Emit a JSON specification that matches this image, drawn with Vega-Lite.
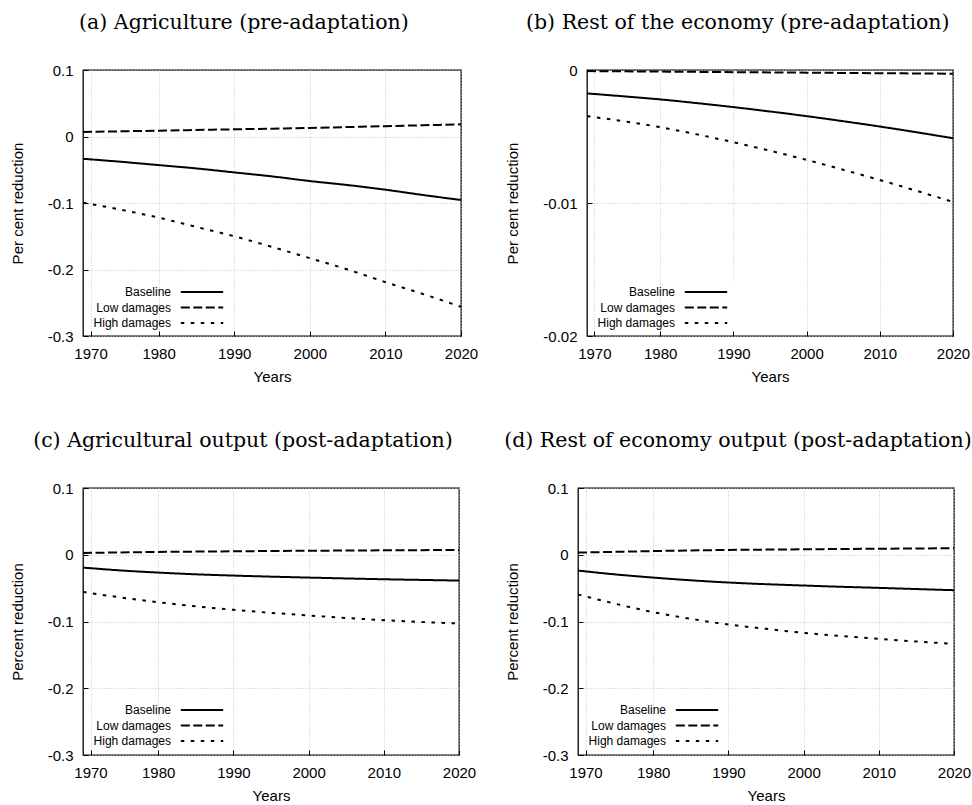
{
  "$schema": "https://vega.github.io/schema/vega-lite/v6.json",
  "background": "white",
  "padding": {"left": 9, "top": 11, "right": 5, "bottom": 5},
  "config": {
    "font": "Liberation Sans",
    "view": {"stroke": "black", "strokeWidth": 1.3},
    "axis": {
      "labelFont": "Liberation Sans", "labelFontSize": 15, "labelColor": "black",
      "titleFont": "Liberation Sans", "titleFontSize": 15, "titleFontWeight": "normal", "titleColor": "black",
      "domain": false, "gridColor": "#c4c4c4", "gridDash": [1, 2], "gridWidth": 1,
      "tickColor": "black", "tickSize": -5, "tickWidth": 1, "labelPadding": 15, "labelFlush": false
    },
    "axisY": {"titlePadding": 22},
    "axisX": {"titlePadding": 8},
    "title": {"font": "DejaVu Serif", "fontSize": 20.5, "fontWeight": "normal", "color": "black", "frame": "bounds", "anchor": "middle", "offset": 30},
    "legend": {
      "title": null, "orient": "none", "legendX": 108, "legendY": 211, "padding": 2,
      "symbolType": "M -2.65 0 H 2.65", "symbolSize": 256, "symbolStrokeWidth": 2, "symbolStrokeColor": "black", "symbolFillColor": "transparent",
      "labelAlign": "right", "labelOffset": -40, "symbolOffset": 0, "rowPadding": 0.5,
      "labelFont": "Liberation Sans", "labelFontSize": 12, "labelColor": "black", "fillColor": "white"
    },
    "line": {"color": "black", "strokeWidth": 2, "interpolate": "monotone"}
  },
  "datasets": {
    "a": [
      {"year": 1970, "Baseline": -0.0335, "Low damages": 0.0068, "High damages": -0.0995},
      {"year": 1975, "Baseline": -0.038, "Low damages": 0.0078, "High damages": -0.110},
      {"year": 1980, "Baseline": -0.043, "Low damages": 0.0088, "High damages": -0.122},
      {"year": 1985, "Baseline": -0.048, "Low damages": 0.0098, "High damages": -0.136},
      {"year": 1990, "Baseline": -0.054, "Low damages": 0.0108, "High damages": -0.150},
      {"year": 1995, "Baseline": -0.060, "Low damages": 0.0118, "High damages": -0.166},
      {"year": 2000, "Baseline": -0.067, "Low damages": 0.0128, "High damages": -0.183},
      {"year": 2005, "Baseline": -0.073, "Low damages": 0.0142, "High damages": -0.200},
      {"year": 2010, "Baseline": -0.080, "Low damages": 0.0156, "High damages": -0.219},
      {"year": 2015, "Baseline": -0.088, "Low damages": 0.0169, "High damages": -0.237},
      {"year": 2020, "Baseline": -0.0955, "Low damages": 0.0183, "High damages": -0.256}
    ],
    "b": [
      {"year": 1970, "Baseline": -0.00176, "Low damages": -0.00008, "High damages": -0.00347},
      {"year": 1975, "Baseline": -0.00198, "Low damages": -0.0001, "High damages": -0.00385},
      {"year": 1980, "Baseline": -0.00221, "Low damages": -0.00012, "High damages": -0.0043},
      {"year": 1985, "Baseline": -0.00249, "Low damages": -0.00014, "High damages": -0.00484},
      {"year": 1990, "Baseline": -0.00279, "Low damages": -0.00016, "High damages": -0.00543},
      {"year": 1995, "Baseline": -0.00312, "Low damages": -0.00018, "High damages": -0.00607},
      {"year": 2000, "Baseline": -0.00347, "Low damages": -0.0002, "High damages": -0.00676},
      {"year": 2005, "Baseline": -0.00385, "Low damages": -0.00022, "High damages": -0.0075},
      {"year": 2010, "Baseline": -0.00425, "Low damages": -0.00024, "High damages": -0.00827},
      {"year": 2015, "Baseline": -0.00468, "Low damages": -0.00026, "High damages": -0.00908},
      {"year": 2020, "Baseline": -0.00513, "Low damages": -0.00028, "High damages": -0.00992}
    ],
    "c": [
      {"year": 1970, "Baseline": -0.0192, "Low damages": 0.0027, "High damages": -0.0556},
      {"year": 1975, "Baseline": -0.0235, "Low damages": 0.0035, "High damages": -0.064},
      {"year": 1980, "Baseline": -0.0267, "Low damages": 0.0042, "High damages": -0.0711},
      {"year": 1985, "Baseline": -0.0293, "Low damages": 0.0047, "High damages": -0.0773},
      {"year": 1990, "Baseline": -0.0312, "Low damages": 0.0052, "High damages": -0.0825},
      {"year": 1995, "Baseline": -0.0328, "Low damages": 0.0056, "High damages": -0.087},
      {"year": 2000, "Baseline": -0.0342, "Low damages": 0.006, "High damages": -0.091},
      {"year": 2005, "Baseline": -0.0355, "Low damages": 0.0063, "High damages": -0.0947},
      {"year": 2010, "Baseline": -0.0367, "Low damages": 0.0066, "High damages": -0.098},
      {"year": 2015, "Baseline": -0.0377, "Low damages": 0.0069, "High damages": -0.1007},
      {"year": 2020, "Baseline": -0.0387, "Low damages": 0.0072, "High damages": -0.103}
    ],
    "d": [
      {"year": 1970, "Baseline": -0.0237, "Low damages": 0.0032, "High damages": -0.0596},
      {"year": 1975, "Baseline": -0.0295, "Low damages": 0.0044, "High damages": -0.0735},
      {"year": 1980, "Baseline": -0.0342, "Low damages": 0.0055, "High damages": -0.086},
      {"year": 1985, "Baseline": -0.0383, "Low damages": 0.0064, "High damages": -0.096},
      {"year": 1990, "Baseline": -0.0416, "Low damages": 0.0072, "High damages": -0.1045},
      {"year": 1995, "Baseline": -0.0441, "Low damages": 0.0077, "High damages": -0.111},
      {"year": 2000, "Baseline": -0.0461, "Low damages": 0.0082, "High damages": -0.117},
      {"year": 2005, "Baseline": -0.048, "Low damages": 0.0086, "High damages": -0.1218},
      {"year": 2010, "Baseline": -0.0496, "Low damages": 0.009, "High damages": -0.126},
      {"year": 2015, "Baseline": -0.0514, "Low damages": 0.0094, "High damages": -0.130},
      {"year": 2020, "Baseline": -0.0531, "Low damages": 0.0097, "High damages": -0.1334}
    ]
  },
  "resolve": {"scale": {"x": "independent", "y": "independent", "strokeDash": "independent"}, "legend": {"strokeDash": "independent"}},
  "spacing": 44,
  "vconcat": [
    {
      "spacing": 26,
      "resolve": {"scale": {"x": "independent", "y": "independent", "strokeDash": "independent"}, "legend": {"strokeDash": "independent"}},
      "hconcat": [
        {
          "title": "(a) Agriculture (pre-adaptation)",
          "width": 378, "height": 266,
          "data": {"name": "a"},
          "transform": [{"fold": ["Baseline", "Low damages", "High damages"], "as": ["scenario", "value"]}],
          "mark": {"type": "line"},
          "encoding": {
            "x": {"field": "year", "type": "quantitative", "scale": {"domain": [1970, 2020], "nice": false, "zero": false},
                  "axis": {"title": "Years", "values": [1971, 1980, 1990, 2000, 2010, 2020], "labelExpr": "datum.value == 1971 ? '1970' : datum.label", "format": "d"}},
            "y": {"field": "value", "type": "quantitative", "scale": {"domain": [-0.3, 0.1], "nice": false, "zero": false},
                  "axis": {"title": "Per cent reduction", "values": [-0.3, -0.2, -0.1, 0, 0.1], "format": "~g", "labelExpr": "replace(datum.label, '−', '-')"}},
            "strokeDash": {"field": "scenario", "type": "nominal", "sort": ["Baseline", "Low damages", "High damages"],
                           "scale": {"domain": ["Baseline", "Low damages", "High damages"], "range": [[1, 0], [9, 3.5], [3.5, 6.5]]}}
          }
        },
        {
          "title": "(b) Rest of the economy (pre-adaptation)",
          "width": 366, "height": 266,
          "data": {"name": "b"},
          "transform": [{"fold": ["Baseline", "Low damages", "High damages"], "as": ["scenario", "value"]}],
          "mark": {"type": "line"},
          "encoding": {
            "x": {"field": "year", "type": "quantitative", "scale": {"domain": [1970, 2020], "nice": false, "zero": false},
                  "axis": {"title": "Years", "values": [1971, 1980, 1990, 2000, 2010, 2020], "labelExpr": "datum.value == 1971 ? '1970' : datum.label", "format": "d"}},
            "y": {"field": "value", "type": "quantitative", "scale": {"domain": [-0.02, 0], "nice": false, "zero": false},
                  "axis": {"title": "Per cent reduction", "values": [-0.02, -0.01, 0], "format": "~g", "labelExpr": "replace(datum.label, '−', '-')"}},
            "strokeDash": {"field": "scenario", "type": "nominal", "sort": ["Baseline", "Low damages", "High damages"],
                           "scale": {"domain": ["Baseline", "Low damages", "High damages"], "range": [[1, 0], [9, 3.5], [3.5, 6.5]]}}
          }
        }
      ]
    },
    {
      "spacing": 26,
      "resolve": {"scale": {"x": "independent", "y": "independent", "strokeDash": "independent"}, "legend": {"strokeDash": "independent"}},
      "hconcat": [
        {
          "title": "(c) Agricultural output (post-adaptation)",
          "width": 376, "height": 267,
          "data": {"name": "c"},
          "transform": [{"fold": ["Baseline", "Low damages", "High damages"], "as": ["scenario", "value"]}],
          "mark": {"type": "line"},
          "encoding": {
            "x": {"field": "year", "type": "quantitative", "scale": {"domain": [1970, 2020], "nice": false, "zero": false},
                  "axis": {"title": "Years", "values": [1971, 1980, 1990, 2000, 2010, 2020], "labelExpr": "datum.value == 1971 ? '1970' : datum.label", "format": "d"}},
            "y": {"field": "value", "type": "quantitative", "scale": {"domain": [-0.3, 0.1], "nice": false, "zero": false},
                  "axis": {"title": "Percent reduction", "values": [-0.3, -0.2, -0.1, 0, 0.1], "format": "~g", "labelExpr": "replace(datum.label, '−', '-')"}},
            "strokeDash": {"field": "scenario", "type": "nominal", "sort": ["Baseline", "Low damages", "High damages"],
                           "scale": {"domain": ["Baseline", "Low damages", "High damages"], "range": [[1, 0], [9, 3.5], [3.5, 6.5]]}}
          }
        },
        {
          "title": "(d) Rest of economy output (post-adaptation)",
          "width": 376, "height": 267,
          "data": {"name": "d"},
          "transform": [{"fold": ["Baseline", "Low damages", "High damages"], "as": ["scenario", "value"]}],
          "mark": {"type": "line"},
          "encoding": {
            "x": {"field": "year", "type": "quantitative", "scale": {"domain": [1970, 2020], "nice": false, "zero": false},
                  "axis": {"title": "Years", "values": [1971, 1980, 1990, 2000, 2010, 2020], "labelExpr": "datum.value == 1971 ? '1970' : datum.label", "format": "d"}},
            "y": {"field": "value", "type": "quantitative", "scale": {"domain": [-0.3, 0.1], "nice": false, "zero": false},
                  "axis": {"title": "Percent reduction", "values": [-0.3, -0.2, -0.1, 0, 0.1], "format": "~g", "labelExpr": "replace(datum.label, '−', '-')"}},
            "strokeDash": {"field": "scenario", "type": "nominal", "sort": ["Baseline", "Low damages", "High damages"],
                           "scale": {"domain": ["Baseline", "Low damages", "High damages"], "range": [[1, 0], [9, 3.5], [3.5, 6.5]]}}
          }
        }
      ]
    }
  ]
}
